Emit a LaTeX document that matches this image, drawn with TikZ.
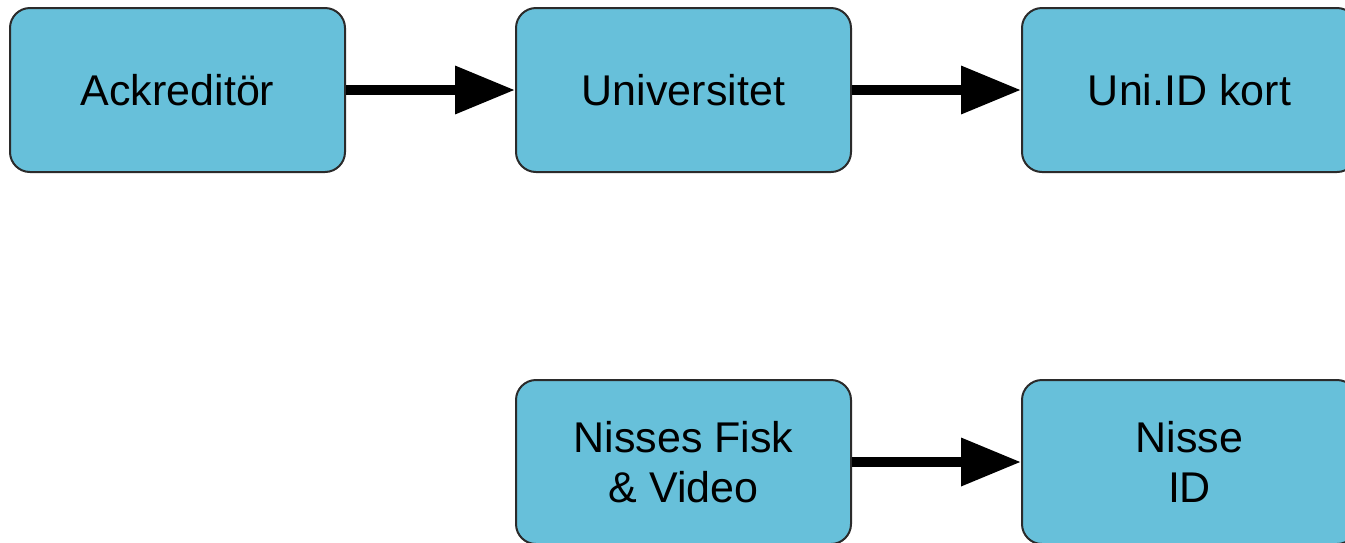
\documentclass[tikz,border=0pt]{standalone}
\usepackage{fontspec}
\setmainfont{Liberation Sans}
\usetikzlibrary{positioning,arrows.meta}

\definecolor{boxblue}{HTML}{67C0DA}
\definecolor{boxline}{HTML}{2B2B2B}

\tikzset{
  box/.style={draw=boxline, line width=2pt, fill=boxblue, rounded corners=20pt,
    minimum width=335pt, minimum height=164pt, inner sep=0pt, align=center,
    font=\fontsize{43}{50}\selectfont},
  flow/.style={line width=10pt, -{Triangle[length=60pt,width=46pt]}}
}

\begin{document}
\begin{tikzpicture}[x=1pt, y=1pt, node distance=169pt and 169pt]
\useasboundingbox (0,0) rectangle (1345,-542);
\node[box] (ackr) at (177.5,-90) {Ackreditör};
\node[box, right=of ackr] (uni) {Universitet};
\node[box, right=of uni] (unid) {Uni.ID kort};
\node[box, below=206pt of uni] (nisse) {Nisses Fisk\\\& Video};
\node[box, right=of nisse] (nisseid) {Nisse\\ID};
\draw[flow] (ackr) -- (uni);
\draw[flow] (uni) -- (unid);
\draw[flow] (nisse) -- (nisseid);
\end{tikzpicture}
\end{document}
